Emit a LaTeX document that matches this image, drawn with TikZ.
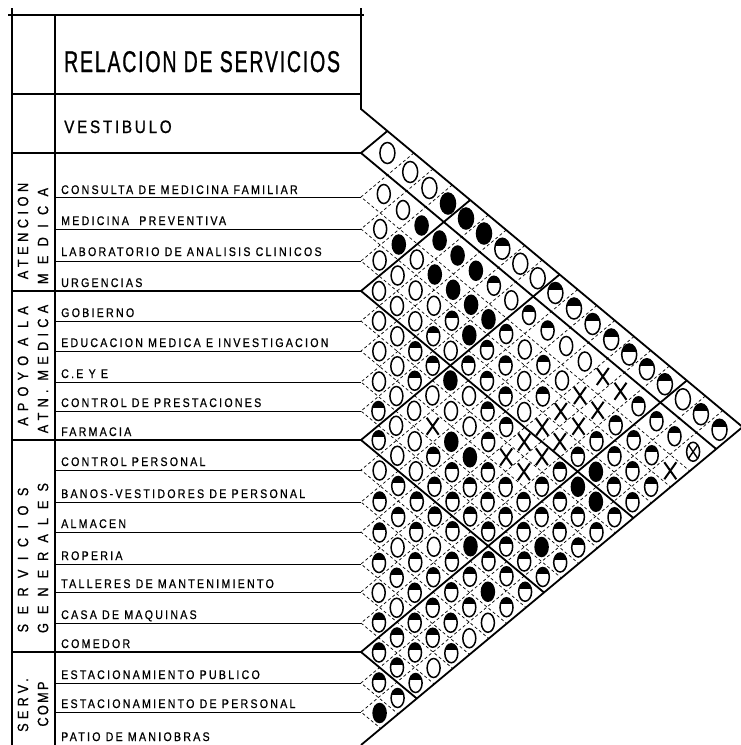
\documentclass[tikz,border=0pt]{standalone}
\usepackage{fontspec}
\setmainfont{Liberation Sans}
\newfontfamily\lblfont[FakeStretch=0.85,LetterSpace=18,FakeBold=0.8]{Liberation Sans}
\newfontfamily\titlefont[FakeStretch=0.65,LetterSpace=6,FakeBold=0.8]{Liberation Sans}
\newfontfamily\vestfont[FakeStretch=0.85,LetterSpace=15,FakeBold=0.8]{Liberation Sans}
\newfontfamily\grpfont[FakeStretch=0.85,FakeBold=0.8]{Liberation Sans}
\usetikzlibrary{shapes.geometric,shapes.misc}
\def\cv{{131,175,213,245,276,306,336,366.5,396.5,425.5,455,486,517,548,578,607.5,637.5,667.5,697.5,728.5}}
\def\bv{{109,153,197,229,261,291,321,351,382,411,440,470,502,532,564,592,623,652,683,712,745}}
\newcommand\cellnode[4]{\node[sym#1,#4] (#2) at (#3) {};}
\begin{document}
\begin{tikzpicture}[x=1pt,y=-1pt,
  frame/.style={line width=1.6pt},
  rowline/.style={line width=0.8pt},
  gridline/.style={line width=0.7pt,dash pattern=on 3pt off 2.5pt},
  thickline/.style={line width=1.8pt},
  lbl/.style={anchor=base west,inner sep=0pt,font=\lblfont\fontsize{12.5}{14}\selectfont},
  grp/.style={inner sep=0pt,rotate=90,font=\grpfont\fontsize{15}{15}\selectfont},
  big/.style={minimum width=15pt,minimum height=21pt},
  norm/.style={},
  symO/.style={ellipse,draw,line width=1.5pt,fill=white,minimum width=13pt,minimum height=19pt,inner sep=0pt},
  symF/.style={symO,fill=black},
  symH/.style={symO,path picture={\fill[black] (path picture bounding box.north west) rectangle ([yshift=3pt]path picture bounding box.east);}},
  symX/.style={cross out,draw,line width=2pt,minimum width=10pt,minimum height=15pt,inner sep=0pt},
  symZ/.style={symO,path picture={\draw[line width=1.4pt] (path picture bounding box.north west) -- (path picture bounding box.south east) (path picture bounding box.north east) -- (path picture bounding box.south west);}}
]
\useasboundingbox (0,0) rectangle (740,745);
% left frame
\draw[frame] (12,8) -- (12,745);
\draw[frame] (55,15) -- (55,745);
\draw[frame] (8,15) -- (364,15);
\draw[frame] (12,94) -- (361,94);
% triangle grid
\foreach \k in {1,...,19} {
  \pgfmathsetmacro\bk{\bv[\k]}
  \pgfmathsetmacro\xa{361+0.6*(745-\bk)}
  \pgfmathsetmacro\ya{(\bk+745)/2}
  \pgfmathsetmacro\xb{361+0.6*(\bk-109)}
  \pgfmathsetmacro\yb{(\bk+109)/2}
  \coordinate (L\k) at (361,\bk);
  \draw[gridline] (\xb,\yb) -- (L\k) -- (\xa,\ya);
  \draw[rowline] (55,\bk) -- (L\k);
}
\foreach \k in {1,5,10,17} {
  \pgfmathsetmacro\bk{\bv[\k]}
  \pgfmathsetmacro\xa{361+0.6*(745-\bk)}
  \pgfmathsetmacro\ya{(\bk+745)/2}
  \pgfmathsetmacro\xb{361+0.6*(\bk-109)}
  \pgfmathsetmacro\yb{(\bk+109)/2}
  \draw[thickline] (\xb,\yb) -- (L\k) -- (\xa,\ya);
  \draw[frame] (12,\bk) -- (L\k);
}
\coordinate (TL) at (361,109);
\coordinate (TR) at (742.6,427);
\coordinate (BL) at (361,745);
\draw[thickline] (361,8) -- (TL) -- (TR) -- (BL);
% cells
\foreach \i/\lst in {
0/{O,O,O,F,F,F,H,O,O,H,H,H,H,H,H,H,O,H,H},
1/{O,O,F,F,F,F,H,O,H,H,O,O,X,X,H,H,H,Z},
2/{O,F,O,F,F,F,F,H,O,H,O,X,X,H,H,H,X},
3/{O,O,O,O,H,F,H,H,O,H,X,X,H,H,H,H},
4/{O,O,O,H,O,H,H,H,O,X,X,H,F,H,H},
5/{O,O,H,H,F,O,H,H,X,X,H,F,F,H},
6/{O,O,H,O,O,O,H,X,X,H,H,H,H},
7/{O,O,O,X,F,F,H,H,H,H,H,H},
8/{H,O,O,H,H,H,H,H,H,F,H},
9/{H,O,O,H,H,H,H,H,H,H},
10/{O,H,H,H,H,F,H,H,H},
11/{H,H,H,O,H,H,F,H},
12/{H,O,H,H,H,H,O},
13/{H,H,H,H,H,O},
14/{O,O,H,H,H},
15/{H,H,H,O},
16/{H,H,H},
17/{H,H},
18/{F}} {
  \foreach \s [count=\n] in \lst {
    \pgfmathtruncatemacro\j{\i+\n}
    \pgfmathsetmacro\ci{\cv[\i]}
    \pgfmathsetmacro\cj{\cv[\j]}
    \pgfmathsetmacro\xx{361+0.6*(\cj-\ci)}
    \pgfmathsetmacro\yy{(\ci+\cj)/2}
    \ifnum\i=0 \def\sz{big}\else\def\sz{norm}\fi
    \edef\tmp{\noexpand\cellnode{\s}{c\i-\j}{\xx,\yy}{\sz}}\tmp
  }
}
% texts
\node[anchor=base west,inner sep=0pt,font=\titlefont\fontsize{30}{32}\selectfont] (title) at (64,72) {RELACION DE SERVICIOS};
\node[anchor=base west,inner sep=0pt,font=\vestfont\fontsize{18}{20}\selectfont] (vest) at (64,133) {VESTIBULO};
\node[lbl] (r1) at (61,194) {CONSULTA DE MEDICINA FAMILIAR};
\node[lbl] (r2) at (61,225) {MEDICINA\ \ PREVENTIVA};
\node[lbl] (r3) at (61,256) {LABORATORIO DE ANALISIS CLINICOS};
\node[lbl] (r4) at (61,287) {URGENCIAS};
\node[lbl] (r5) at (61,317) {GOBIERNO};
\node[lbl] (r6) at (61,347) {EDUCACION MEDICA E INVESTIGACION};
\node[lbl] (r7) at (61,378) {C.E Y E};
\node[lbl] (r8) at (61,407) {CONTROL DE PRESTACIONES};
\node[lbl] (r9) at (61,436) {FARMACIA};
\node[lbl] (r10) at (61,466) {CONTROL PERSONAL};
\node[lbl] (r11) at (61,498) {BANOS-VESTIDORES DE PERSONAL};
\node[lbl] (r12) at (61,528) {ALMACEN};
\node[lbl] (r13) at (61,560) {ROPERIA};
\node[lbl] (r14) at (61,588) {TALLERES DE MANTENIMIENTO};
\node[lbl] (r15) at (61,619) {CASA DE MAQUINAS};
\node[lbl] (r16) at (61,648) {COMEDOR};
\node[lbl] (r17) at (61,679) {ESTACIONAMIENTO PUBLICO};
\node[lbl] (r18) at (61,708) {ESTACIONAMIENTO DE PERSONAL};
\node[lbl] (r19) at (61,741) {PATIO DE MANIOBRAS};
% group labels
\node[grp] (g1a) at (23,231) {\addfontfeature{LetterSpace=30}ATENCION};
\node[grp] (g1b) at (43,236) {\addfontfeature{LetterSpace=62}MEDICA};
\node[grp] (g2a) at (23,366) {\addfontfeature{LetterSpace=41}APOYO A LA};
\node[grp] (g2b) at (43,369) {\addfontfeature{LetterSpace=35}ATN. MEDICA};
\node[grp] (g3a) at (23,560) {\addfontfeature{LetterSpace=63}SERVICIOS};
\node[grp] (g3b) at (43,558) {\addfontfeature{LetterSpace=60}GENERALES};
\node[grp] (g4a) at (23,705) {\addfontfeature{LetterSpace=28}SERV.};
\node[grp] (g4b) at (43,704) {\addfontfeature{LetterSpace=15}COMP};
\end{tikzpicture}
\end{document}
